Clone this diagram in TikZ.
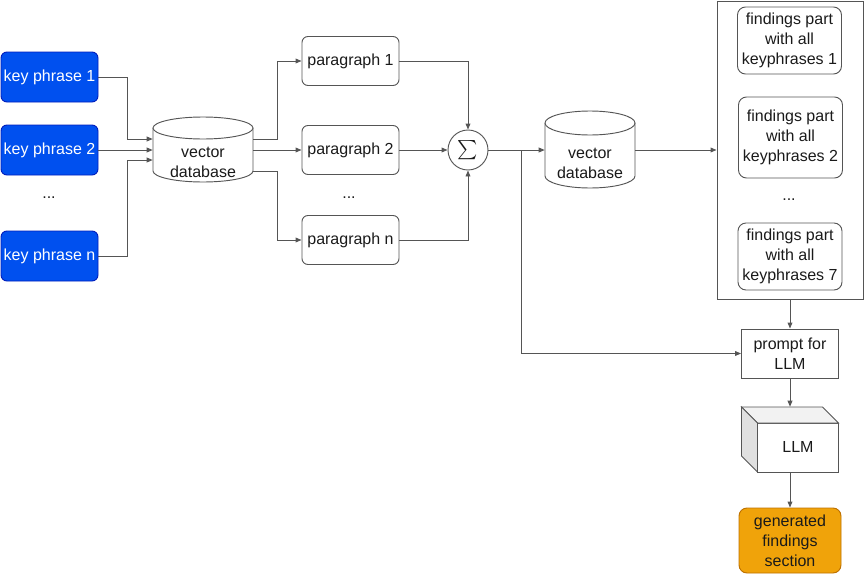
\documentclass[tikz,border=0pt]{standalone}
\usepackage{amsmath}
\usepackage{fontspec}
\setmainfont{Liberation Sans}
\usetikzlibrary{arrows.meta,calc}
\definecolor{kpfill}{HTML}{0050EF}
\definecolor{kpdraw}{HTML}{001DBC}
\definecolor{orfill}{HTML}{F0A30A}
\definecolor{ordraw}{HTML}{BD7000}
\definecolor{ln}{HTML}{555555}
\definecolor{tx}{HTML}{1A1A1A}
\definecolor{topface}{HTML}{F2F2F2}
\definecolor{sideface}{HTML}{E0E0E0}
\begin{document}
\begin{tikzpicture}[x=0.75pt,y=-0.75pt,
  every node/.style={font=\fontsize{12}{15}\selectfont, text=tx, inner sep=0pt, align=center},
  conn/.style={draw=ln, line width=0.7pt, -{Triangle[length=4.5pt,width=3.6pt]}},
  shapeline/.style={draw=ln, line width=0.7pt},
  kp/.style={draw=kpdraw, fill=kpfill, text=white, line width=0.7pt, rounded corners=4.5pt, minimum width=72.75pt, minimum height=37.5pt},
  para/.style={shapeline, rounded corners=4.5pt, minimum width=72.75pt, minimum height=36.75pt},
  finding/.style={shapeline, rounded corners=6pt, minimum width=78pt},
  plainbox/.style={shapeline, minimum width=72.75pt, minimum height=36.75pt},
]
\useasboundingbox (0,0) rectangle (864,575);

% key phrases
\node[kp] (k1) at (49.5,77) {key phrase 1};
\node[kp] (k2) at (49.5,150) {key phrase 2};
\node[kp] (kn) at (49.5,256) {key phrase n};
\node (kdots) at (49,198) {...};

% vector database A
\node[minimum width=75pt, minimum height=48.75pt] (vdbA) at (203,150) {};
\draw[shapeline, fill=white] (153,128) -- (153,171) arc[start angle=180, end angle=360, x radius=37.5pt, y radius=8.25pt] -- (253,128);
\draw[shapeline, fill=white] (203,128) ellipse [x radius=37.5pt, y radius=8.25pt];
\node (vdbAtext) at (203,162) {vector\\database};

% paragraphs
\node[para] (p1) at (350.5,61) {paragraph 1};
\node[para] (p2) at (350.5,150) {paragraph 2};
\node[para] (pn) at (350.5,240) {paragraph n};
\node (pdots) at (349,198) {...};

% sum
\node[shapeline, circle, minimum size=30pt, font=\fontsize{15}{15}\selectfont] (sig) at (468,150) {$\textstyle\sum$};

% vector database B
\node[minimum width=67.5pt, minimum height=57.75pt] (vdbB) at (590,150) {};
\draw[shapeline, fill=white] (545,123) -- (545,176) arc[start angle=180, end angle=360, x radius=33.75pt, y radius=9pt] -- (635,123);
\draw[shapeline, fill=white] (590,123) ellipse [x radius=33.75pt, y radius=9pt];
\node (vdbBtext) at (590,163) {vector\\database};

% findings container
\node[shapeline, minimum width=109.5pt, minimum height=223.5pt] (big) at (790,150) {};
\node[finding, minimum height=50.25pt] (f1) at (789.5,40.5) {findings part\\with all\\keyphrases 1};
\node[finding, minimum height=60.75pt] (f2) at (790.5,137.5) {findings part\\with all\\keyphrases 2};
\node (fdots) at (789,200) {...};
\node[finding, minimum height=50.25pt] (f7) at (790,256.5) {findings part\\with all\\keyphrases 7};

% prompt
\node[plainbox] (prompt) at (790,353.5) {prompt for\\LLM};

% LLM cube
\node[minimum width=72.75pt, minimum height=48.75pt] (llm) at (790,439.5) {};
\draw[shapeline, fill=white] (757.5,423) rectangle (838.5,472);
\draw[shapeline, fill=topface] (741.5,407) -- (822.5,407) -- (838.5,423) -- (757.5,423) -- cycle;
\draw[shapeline, fill=sideface] (741.5,407) -- (757.5,423) -- (757.5,472) -- (741.5,456) -- cycle;
\node (llmtext) at (798,447) {LLM};

% generated
\node[draw=ordraw, fill=orfill, line width=0.7pt, rounded corners=6pt, minimum width=76.5pt, minimum height=48.75pt] (gen) at (790,540.5) {generated\\findings\\section};

% connectors
\draw[conn] (k1.east) -- ++(28.5,0) |- ($(vdbA.west)+(0,-11)$);
\draw[conn] (k2.east) -- (vdbA.west);
\draw[conn] (kn.east) -- ++(28.5,0) |- ($(vdbA.west)+(0,10)$);

\draw[conn] ($(vdbA.east)+(0,-11)$) -- ++(24,0) |- (p1.west);
\draw[conn] (vdbA.east) -- (p2.west);
\draw[conn] ($(vdbA.east)+(0,21)$) -- ++(24,0) |- (pn.west);

\draw[conn] (p1.east) -| (sig.north);
\draw[conn] (p2.east) -- (sig.west);
\draw[conn] (pn.east) -| (sig.south);

\draw[conn] (sig.east) -- (vdbB.west);
\coordinate (jn) at (521,150);
\draw[conn] (jn) |- (prompt.west);
\draw[conn] (vdbB.east) -- (big.west);
\draw[conn] (big.south) -- (prompt.north);
\draw[conn] (prompt.south) -- (llm.north);
\draw[conn] (llm.south) -- (gen.north);
\end{tikzpicture}
\end{document}
